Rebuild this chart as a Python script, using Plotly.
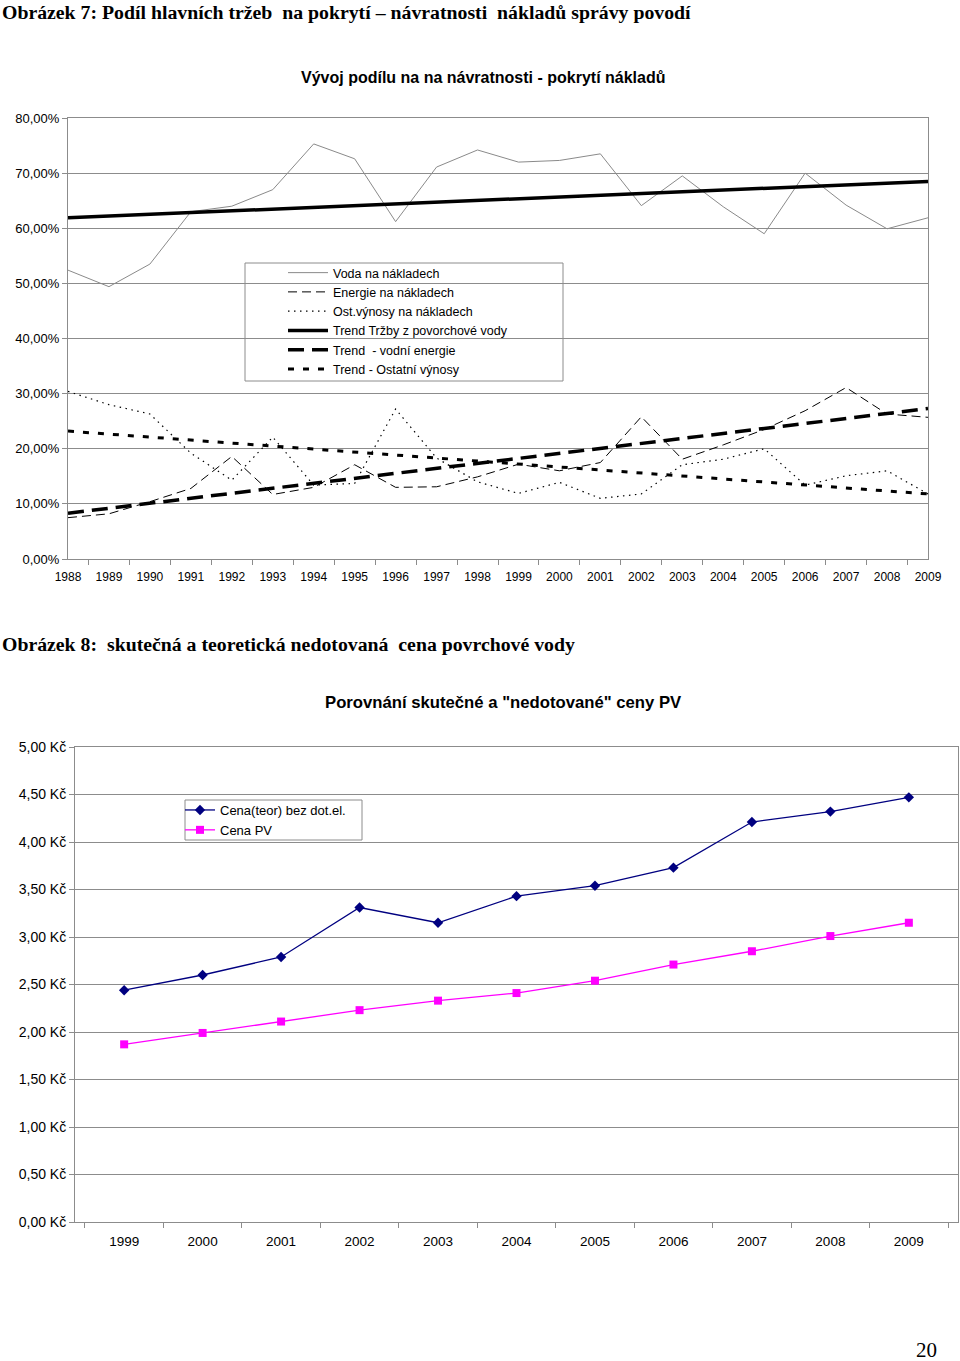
import plotly.graph_objects as go

W, H = 960, 1361

# ---------- data: chart 1 ----------
years1 = [str(y) for y in range(1988, 2010)]
voda = [52.4, 49.4, 53.5, 63.0, 64.0, 67.0, 75.3, 72.6, 61.2, 71.1, 74.2,
        72.0, 72.3, 73.5, 64.1, 69.5, 63.9, 59.0, 70.0, 64.2, 59.9, 61.9]
energie = [7.5, 8.2, 10.4, 12.8, 18.6, 11.7, 13.0, 17.1, 13.0, 13.1, 14.9,
           17.2, 16.0, 17.5, 25.8, 18.1, 20.7, 23.5, 26.9, 31.1, 26.3, 25.7]
ostatni = [30.4, 28.0, 26.3, 19.2, 14.3, 22.1, 13.4, 13.7, 27.2, 18.3, 14.0,
           11.9, 13.9, 11.0, 11.8, 17.1, 18.1, 20.0, 13.4, 15.1, 16.0, 11.8]
trend_years = ["1988", "2009"]
trend_trzby = [61.9, 68.5]
trend_energie = [8.3, 27.3]
trend_ostatni = [23.2, 11.8]
y1_tickvals = [0, 10, 20, 30, 40, 50, 60, 70, 80]
y1_ticktext = ["0,00%", "10,00%", "20,00%", "30,00%", "40,00%", "50,00%",
               "60,00%", "70,00%", "80,00%"]

# ---------- data: chart 2 ----------
years2 = [str(y) for y in range(1999, 2010)]
cena_teor = [2.44, 2.60, 2.79, 3.31, 3.15, 3.43, 3.54, 3.73, 4.21, 4.32, 4.47]
cena_pv = [1.87, 1.99, 2.11, 2.23, 2.33, 2.41, 2.54, 2.71, 2.85, 3.01, 3.15]
y2_tickvals = [0, 0.5, 1, 1.5, 2, 2.5, 3, 3.5, 4, 4.5, 5]
y2_ticktext = ["0,00 Kč", "0,50 Kč", "1,00 Kč", "1,50 Kč", "2,00 Kč", "2,50 Kč",
               "3,00 Kč", "3,50 Kč", "4,00 Kč", "4,50 Kč", "5,00 Kč"]

SANS = "Liberation Sans, Arial, sans-serif"
SERIF = "Liberation Serif, Times New Roman, serif"
GRID = "#8c8c8c"

def px_x(x):
    return x / W

def px_y(y):
    return 1 - y / H

fig = go.Figure()

# chart 1 traces
fig.add_trace(go.Scatter(x=years1, y=voda, name="Voda na nákladech", mode="lines",
                         line=dict(color="#8a8a8a", width=1), xaxis="x", yaxis="y",
                         legend="legend"))
fig.add_trace(go.Scatter(x=years1, y=energie, name="Energie na nákladech", mode="lines",
                         line=dict(color="black", width=1, dash="9px,5px"), xaxis="x", yaxis="y",
                         legend="legend"))
fig.add_trace(go.Scatter(x=years1, y=ostatni, name="Ost.výnosy na nákladech", mode="lines",
                         line=dict(color="black", width=1.2, dash="1.5px,4.5px"), xaxis="x", yaxis="y",
                         legend="legend"))
fig.add_trace(go.Scatter(x=trend_years, y=trend_trzby, name="Trend Tržby z povorchové vody",
                         mode="lines", line=dict(color="black", width=3.5), xaxis="x", yaxis="y",
                         legend="legend"))
fig.add_trace(go.Scatter(x=trend_years, y=trend_energie, name="Trend  - vodní energie",
                         mode="lines", line=dict(color="black", width=3.5, dash="16px,8px"),
                         xaxis="x", yaxis="y", legend="legend"))
fig.add_trace(go.Scatter(x=trend_years, y=trend_ostatni, name="Trend - Ostatní výnosy",
                         mode="lines", line=dict(color="black", width=3, dash="6px,9px"),
                         xaxis="x", yaxis="y", legend="legend"))

# chart 2 traces
fig.add_trace(go.Scatter(x=years2, y=cena_teor, name="Cena(teor) bez dot.el.", mode="lines+markers",
                         line=dict(color="#000080", width=1.3),
                         marker=dict(symbol="diamond", size=8, color="#000080"),
                         xaxis="x2", yaxis="y2", legend="legend2"))
fig.add_trace(go.Scatter(x=years2, y=cena_pv, name="Cena PV", mode="lines+markers",
                         line=dict(color="#ff00ff", width=1.3),
                         marker=dict(symbol="square", size=8, color="#ff00ff"),
                         xaxis="x2", yaxis="y2", legend="legend2"))

axis_common = dict(showline=True, linecolor=GRID, linewidth=1, mirror=True,
                   ticks="outside", ticklen=5, tickcolor=GRID, zeroline=False,
                   automargin=False)

fig.update_layout(
    width=W, height=H, margin=dict(l=0, r=0, t=0, b=0, autoexpand=False),
    autosize=False,
    paper_bgcolor="white", plot_bgcolor="white",
    font=dict(family=SANS, size=12, color="black"),
    xaxis=dict(domain=[px_x(68), px_x(928)], anchor="y", type="category",
               categoryorder="array", categoryarray=years1, tickson="boundaries",
               showgrid=False, tickfont=dict(size=12), ticklabelstandoff=7,
               **axis_common),
    yaxis=dict(domain=[px_y(559), px_y(118)], anchor="x", range=[0, 80],
               tickvals=y1_tickvals, ticktext=y1_ticktext, showgrid=True,
               gridcolor=GRID, gridwidth=1, tickfont=dict(size=13), **axis_common),
    xaxis2=dict(domain=[px_x(75), px_x(958)], anchor="y2", type="category",
                categoryorder="array", categoryarray=years2, tickson="boundaries",
                showgrid=False, tickfont=dict(size=13.5), ticklabelstandoff=7,
                **axis_common),
    yaxis2=dict(domain=[px_y(1222), px_y(747)], anchor="x2", range=[0, 5],
                tickvals=y2_tickvals, ticktext=y2_ticktext, showgrid=True,
                gridcolor=GRID, gridwidth=1, tickfont=dict(size=14), **axis_common),
    legend=dict(x=px_x(283), y=px_y(258), xanchor="left", yanchor="top",
                bgcolor="rgba(0,0,0,0)", borderwidth=0,
                font=dict(family=SANS, size=12.5), itemwidth=40,
                tracegroupgap=0, traceorder="normal"),
    legend2=dict(x=px_x(180), y=px_y(795), xanchor="left", yanchor="top",
                 bgcolor="rgba(0,0,0,0)", borderwidth=0,
                 font=dict(family=SANS, size=13), itemwidth=30,
                 traceorder="normal"),
    showlegend=True,
)

# legend boxes
fig.add_shape(type="rect", xref="paper", yref="paper",
              x0=px_x(245), x1=px_x(563), y0=px_y(381), y1=px_y(263),
              line=dict(color=GRID, width=1), fillcolor="white", layer="below")
fig.add_shape(type="rect", xref="paper", yref="paper",
              x0=px_x(185), x1=px_x(362), y0=px_y(840), y1=px_y(800),
              line=dict(color=GRID, width=1), fillcolor="white", layer="below")

ann = [
    dict(text="<b>Obrázek 7: Podíl hlavních tržeb  na pokrytí – návratnosti  nákladů správy povodí</b>",
         x=px_x(0), y=px_y(12), xanchor="left", font=dict(family=SERIF, size=19.8)),
    dict(text="<b>Vývoj podílu na na návratnosti - pokrytí nákladů</b>",
         x=px_x(483), y=px_y(78), xanchor="center", font=dict(family=SANS, size=16)),
    dict(text="<b>Obrázek 8:  skutečná a teoretická nedotovaná  cena povrchové vody</b>",
         x=px_x(0), y=px_y(644), xanchor="left", font=dict(family=SERIF, size=19.8)),
    dict(text="<b>Porovnání skutečné a \"nedotované\" ceny PV</b>",
         x=px_x(503), y=px_y(702), xanchor="center", font=dict(family=SANS, size=16.7)),
    dict(text="20", x=px_x(926), y=px_y(1350), xanchor="center",
         font=dict(family=SERIF, size=21)),
]
for a in ann:
    fig.add_annotation(xref="paper", yref="paper", yanchor="middle", showarrow=False, **a)

fig.write_html("out.html", config={"displayModeBar": False},
               post_script="document.body.style.margin='0';")
